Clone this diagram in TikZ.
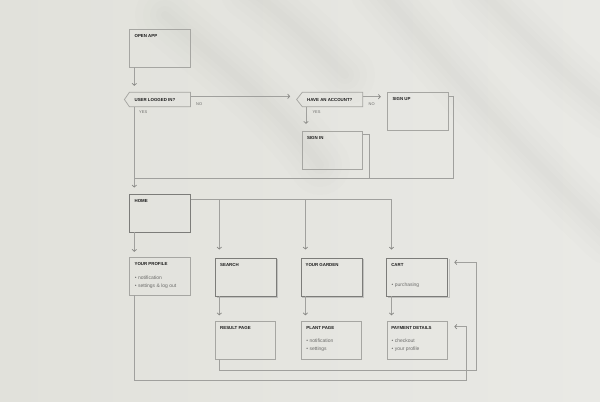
\documentclass[tikz,border=0pt]{standalone}
\usepackage{fontspec}
\setmainfont{Liberation Sans}
\usetikzlibrary{arrows.meta,calc}
\definecolor{bgA}{HTML}{E1E1DB}
\definecolor{bgB}{HTML}{E9E9E5}
\definecolor{leaf}{HTML}{8A8C80}
\definecolor{edge}{HTML}{A6A6A2}
\definecolor{dedge}{HTML}{7C7C79}
\definecolor{wirec}{HTML}{A0A09D}
\definecolor{tipc}{HTML}{858582}
\definecolor{ink}{HTML}{1A1A1A}
\definecolor{soft}{HTML}{6C6C6A}
\begin{document}
\begin{tikzpicture}[x=1bp,y=-1bp,
  box/.style={draw=edge,line width=0.75bp,anchor=north west,minimum width=61.2bp,minimum height=38bp,inner sep=0pt,outer sep=0pt},
  dbox/.style={box,draw=dedge,line width=0.9bp},
  dec/.style={box,draw=none,minimum height=14.4bp},
  decline/.style={draw=edge,line width=0.75bp,line join=miter},
  ttl/.style={font=\fontsize{4.4}{5}\selectfont\bfseries,text=ink,anchor=west,inner sep=0pt},
  itm/.style={font=\fontsize{5}{6}\selectfont,text=soft,anchor=west,inner sep=0pt},
  yn/.style={font=\fontsize{4}{5}\selectfont,text=soft,anchor=west,inner sep=0pt},
  wire/.style={draw=wirec,line width=0.7bp},
  arr/.style={wire,-{Straight Barb[length=2bp,width=4.5bp,color=tipc]},shorten >=6.5bp},
  shade2/.style={draw=edge!70,line width=0.6bp},
]
% background
\shade[left color=bgA,right color=bgB] (0,0) rectangle (600,401);
\useasboundingbox (0,0) rectangle (600,401);
% soft leaf shadows
\foreach \w/\o in {60/0.010,44/0.012,30/0.014,18/0.016,8/0.018}{
  \draw[leaf,line width=\w bp,line cap=round,opacity=\o]
    (165,15) .. controls (230,70) and (280,110) .. (320,165);
  \draw[leaf,line width=\w bp,line cap=round,opacity=\o]
    (380,-10) .. controls (450,70) and (520,150) .. (610,235);
  \draw[leaf,line width=\w bp,line cap=round,opacity=\o]
    (480,-10) .. controls (530,40) and (570,80) .. (610,110);
  \draw[leaf,line width=\w bp,line cap=round,opacity=\o]
    (250,-10) .. controls (290,20) and (320,50) .. (345,75);
}

% boxes
\node[box] (open) at (129.4,29.3) {};
\node[dec] (uli) at (129.4,92.3) {};
\node[dec,minimum width=60.5bp] (hav) at (302.3,92.3) {};
\node[box] (signup) at (387.3,92.3) {};
\node[box,minimum width=60.5bp] (signin) at (302.3,131.3) {};
\node[dbox] (home) at (129.4,194.3) {};
\node[box] (profile) at (129.4,257.3) {};
\node[dbox,minimum width=60.8bp] (search) at (215.5,258.3) {};
\node[dbox] (garden) at (301.2,258.3) {};
\node[dbox,minimum width=60.9bp] (cart) at (386.9,258.3) {};
\node[box,minimum width=60bp] (result) at (215.5,321.3) {};
\node[box,minimum width=60.1bp] (plant) at (301.6,321.3) {};
\node[box,minimum width=60.5bp] (payment) at (387.3,321.3) {};

% decision outlines
\draw[decline] (uli.north west) -- (uli.north east) -- (uli.south east) -- (uli.south west) -- ++(-5,-7.2) -- cycle;
\draw[decline] (hav.north west) -- (hav.north east) -- (hav.south east) -- (hav.south west) -- ++(-5.7,-7.2) -- cycle;
\coordinate (havtip) at ($(hav.west)+(-5.7,0)$);

% soft right/bottom edge on dark boxes
\foreach \n in {search,garden,cart}{
  \draw[shade2] ([xshift=1bp,yshift=-1bp]\n.north east) -- ([xshift=1bp,yshift=-1bp]\n.south east) -- ([xshift=1bp,yshift=-1bp]\n.south west);
}

% titles
\node[ttl] (openT) at ($(open.north west)+(5,7)$) {OPEN APP};
\node[ttl] (uliT) at ($(uli.west)+(5,0)$) {USER LOGGED IN?};
\node[ttl] (havT) at ($(hav.west)+(4.7,0)$) {HAVE AN ACCOUNT?};
\node[ttl] (signupT) at ($(signup.north west)+(5,7)$) {SIGN UP};
\node[ttl] (signinT) at ($(signin.north west)+(4.6,7)$) {SIGN IN};
\node[ttl] (homeT) at ($(home.north west)+(5,7)$) {HOME};
\node[ttl] (profileT) at ($(profile.north west)+(5,7)$) {YOUR PROFILE};
\node[ttl] (searchT) at ($(search.north west)+(4.5,7)$) {SEARCH};
\node[ttl] (gardenT) at ($(garden.north west)+(4.2,7)$) {YOUR GARDEN};
\node[ttl] (cartT) at ($(cart.north west)+(4.2,7)$) {CART};
\node[ttl] (resultT) at ($(result.north west)+(4.5,7)$) {RESULT PAGE};
\node[ttl] (plantT) at ($(plant.north west)+(4.6,7)$) {PLANT PAGE};
\node[ttl] (paymentT) at ($(payment.north west)+(3.8,7)$) {PAYMENT DETAILS};

% items
\node[itm] (pr1) at ($(profile.north west)+(5.3,20.7)$) {• notification};
\node[itm] (pr2) at ($(profile.north west)+(5.3,29)$) {• settings \& log out};
\node[itm] (ca1) at ($(cart.north west)+(4.6,27)$) {• purchasing};
\node[itm] (pl1) at ($(plant.north west)+(4.6,19.7)$) {• notification};
\node[itm] (pl2) at ($(plant.north west)+(4.6,28)$) {• settings};
\node[itm] (pa1) at ($(payment.north west)+(4.2,19.7)$) {• checkout};
\node[itm] (pa2) at ($(payment.north west)+(4.2,28)$) {• your profile};

% yes / no
\node[yn] (no1) at (196,104.3) {NO};
\node[yn] (yes1) at (139,112.3) {YES};
\node[yn] (no2) at (368.5,104.3) {NO};
\node[yn] (yes2) at (312.3,112.3) {YES};

% connectors
\draw[arr] ([xshift=4.9bp]open.south west) -- ([xshift=4.9bp]open.south west |- uli.north);
\draw[arr] ([yshift=3.2bp]uli.east) -- ([yshift=3.2bp]uli.east -| havtip);
\draw[arr] ([yshift=2.8bp]hav.east) -- ([yshift=2.8bp]hav.east -| signup.west);
\draw[arr,shorten >=7.5bp] ([xshift=3.7bp]hav.south west) -- ([xshift=3.7bp]hav.south west |- signin.north);
\draw[arr,shorten >=6.8bp] ([xshift=4.9bp]uli.south west) -- ([xshift=4.9bp]home.north west);

\coordinate (j) at ($(uli.south west)+(4.9,72)$);
\draw[wire] ([yshift=-4.4bp]signup.north east) -- ++(5,0) |- (j);
\draw[wire] ([yshift=-3.4bp]signin.north east) -- ++(6.5,0) |- (j);

% home branches
\coordinate (hl) at ([yshift=-5bp]home.north east);
\coordinate (sb) at ([xshift=3.8bp]search.north west);
\coordinate (gb) at ([xshift=4.2bp]garden.north west);
\coordinate (cb) at ([xshift=4.6bp]cart.north west);
\draw[wire] (hl) -- (hl -| cb);
\draw[arr,shorten >=8.8bp] (hl -| sb) -- (sb);
\draw[arr,shorten >=8.8bp] (hl -| gb) -- (gb);
\draw[arr,shorten >=8.8bp] (hl -| cb) -- (cb);
\draw[arr,shorten >=5.5bp] ([xshift=4.9bp]home.south west) -- ([xshift=4.9bp]profile.north west);

\draw[arr,shorten >=6bp] (sb |- search.south) -- (sb |- result.north);
\draw[arr,shorten >=6bp] (gb |- garden.south) -- (gb |- plant.north);
\draw[arr,shorten >=6bp] (cb |- cart.south) -- (cb |- payment.north);

% return loops
\coordinate (r1) at (476.5,370);
\coordinate (p1) at (466.1,380);
\draw[arr] (sb |- result.south) |- (r1) |- ([yshift=-4bp]cart.north east);
\draw[arr] ([xshift=4.9bp]profile.south west) |- (p1) |- ([yshift=-5.4bp]payment.north east);
\end{tikzpicture}
\end{document}
